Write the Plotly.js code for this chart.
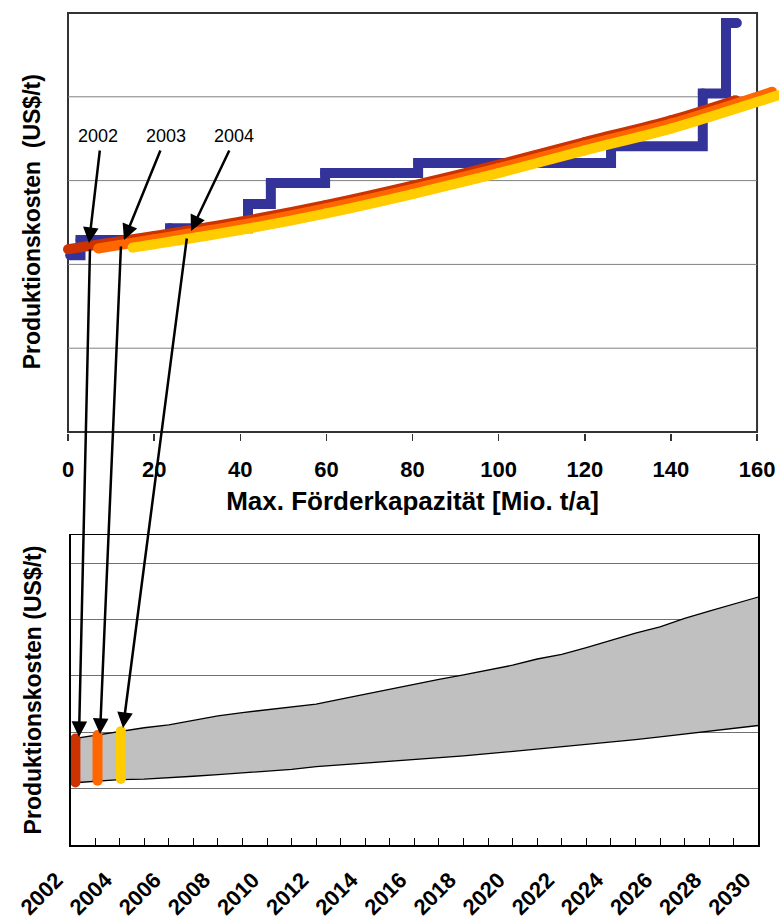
<!DOCTYPE html>
<html><head><meta charset="utf-8">
<script src="https://cdn.plot.ly/plotly-3.0.1.min.js"></script>
<style>html,body{margin:0;padding:0;background:#fff;}#chart{width:779px;height:924px;}</style>
</head><body><div id="chart"></div>
<script>
// ---------- Top chart: cost curve over capacity ----------
const stepCapacity = [0.5, 2.9, 23.7, 41.8, 47.1, 59.7, 81.3, 126.1, 147.4, 152.8, 155.3];
const stepCost     = [2.11, 2.29, 2.43, 2.72, 2.97, 3.09, 3.21, 3.41, 4.04, 4.88, 4.88];

const curve2002X = [0, 20, 40, 60, 80, 100, 120, 140, 155];
const curve2002Y = [2.18, 2.34, 2.51, 2.71, 2.94, 3.19, 3.46, 3.72, 3.96];
const curve2003X = [7, 20, 40, 60, 80, 100, 120, 140, 163.5];
const curve2003Y = [2.19, 2.30, 2.47, 2.67, 2.90, 3.15, 3.42, 3.68, 4.06];
const curve2004X = [15, 20, 40, 60, 80, 100, 120, 140, 165];
const curve2004Y = [2.20, 2.24, 2.41, 2.61, 2.84, 3.09, 3.36, 3.62, 4.02];

const topXTicks = [0, 20, 40, 60, 80, 100, 120, 140, 160];
const topGrid = [1, 2, 3, 4];

// ---------- Bottom chart: cost band over years ----------
const years = [2002,2003,2004,2005,2006,2007,2008,2009,2010,2011,2012,2013,2014,2015,2016,
               2017,2018,2019,2020,2021,2022,2023,2024,2025,2026,2027,2028,2029,2030];
const bandUpper = [1.88,1.95,2.02,2.08,2.13,2.21,2.29,2.35,2.40,2.45,2.50,2.59,2.68,2.77,2.85,
                   2.94,3.02,3.10,3.19,3.30,3.38,3.50,3.63,3.76,3.87,4.02,4.15,4.28,4.40];
const bandLower = [1.10,1.13,1.16,1.17,1.19,1.22,1.25,1.28,1.31,1.34,1.39,1.42,1.45,1.48,1.51,
                   1.55,1.58,1.62,1.66,1.70,1.74,1.78,1.83,1.87,1.92,1.97,2.03,2.08,2.12];

const markLabels = ['2002', '2003', '2004'];
const markYears  = [2002.2, 2003.1, 2004.05];
const markLow    = [1.11, 1.14, 1.17];
const markHigh   = [1.89, 1.95, 2.02];
const markColors = ['#CC3300', '#FF6600', '#FFCC00'];

// ---------- helpers ----------
const W = 779, H = 924;
const px = v => v / W;
const py = v => 1 - v / H;
const FONT = 'Liberation Sans, Arial, sans-serif';

const traces = [];
traces.push({x: stepCapacity, y: stepCost, xaxis: 'x', yaxis: 'y', mode: 'lines+markers',
  line: {shape: 'hv', color: '#333399', width: 10}, marker: {size: 10, color: '#333399'}, hoverinfo: 'skip'});
[[curve2002X, curve2002Y, markColors[0]], [curve2003X, curve2003Y, markColors[1]], [curve2004X, curve2004Y, markColors[2]]]
  .forEach(([cx, cy, col]) => traces.push({x: cx, y: cy, xaxis: 'x', yaxis: 'y', mode: 'lines+markers',
    line: {shape: 'spline', smoothing: 0.8, color: col, width: 10}, marker: {size: 10, color: col}, hoverinfo: 'skip'}));

traces.push({x: years, y: bandLower, xaxis: 'x2', yaxis: 'y2', mode: 'lines',
  line: {color: '#000', width: 1.3}, hoverinfo: 'skip'});
traces.push({x: years, y: bandUpper, xaxis: 'x2', yaxis: 'y2', mode: 'lines', fill: 'tonexty',
  fillcolor: '#C0C0C0', line: {color: '#000', width: 1.3}, hoverinfo: 'skip'});
markYears.forEach((yr, i) => traces.push({x: [yr, yr], y: [markLow[i], markHigh[i]], xaxis: 'x2', yaxis: 'y2',
  mode: 'lines+markers', line: {color: markColors[i], width: 10}, marker: {size: 10, color: markColors[i]}, hoverinfo: 'skip'}));

const shapes = [];
shapes.push({type: 'rect', xref: 'x', yref: 'y', x0: 0, x1: 160, y0: 0, y1: 5, layer: 'below',
  line: {color: '#333', width: 2}, fillcolor: 'rgba(0,0,0,0)'});
topGrid.forEach(g => shapes.push({type: 'line', xref: 'x', yref: 'y', x0: 0, x1: 160, y0: g, y1: g,
  layer: 'below', line: {color: '#808080', width: 1}}));

const annotations = [];
const labelPos = [[98, 136], [166, 136], [234, 136]];
markLabels.forEach((t, i) => annotations.push({text: t, xref: 'paper', yref: 'paper', x: px(labelPos[i][0]), y: py(labelPos[i][1]),
  showarrow: false, xanchor: 'center', yanchor: 'middle', font: {family: FONT, size: 18, color: '#000'}}));
// arrows: [tailX, tailY, headX, headY]
const arrows = [
  [100, 149, 89, 243], [161, 149, 124, 240], [230, 149, 191, 231],
  [90, 248, 79, 737], [121, 245, 100, 734], [187, 237, 123, 728]
];
arrows.forEach(a => annotations.push({text: '', xref: 'paper', yref: 'paper', x: px(a[2]), y: py(a[3]),
  ax: a[0] - a[2], ay: a[1] - a[3], showarrow: true, arrowhead: 2, arrowsize: 1.25, arrowwidth: 2.5,
  arrowcolor: '#000', standoff: 0, startstandoff: 0}));

const layout = {
  width: W, height: H, margin: {l: 0, r: 0, t: 0, b: 0}, showlegend: false,
  paper_bgcolor: '#fff', plot_bgcolor: '#fff',
  font: {family: FONT, color: '#000'},
  xaxis: {domain: [px(46.04), 1], range: [-5.1, 165.1], anchor: 'y', showgrid: false, zeroline: false, showline: false,
    tickvals: topXTicks, ticktext: topXTicks.map(String), ticks: 'outside', ticklen: 7, tickwidth: 1.5, tickcolor: '#333',
    ticklabelstandoff: 10, tickfont: {family: FONT, size: 22, color: '#000', weight: 'bold'},
    title: {text: 'Max. Förderkapazität [Mio. t/a]', standoff: 10, font: {family: FONT, size: 26, color: '#000', weight: 'bold'}}},
  yaxis: {domain: [py(433), py(10.49)], range: [-0.012, 5.03], anchor: 'free', position: px(68),
    showgrid: false, zeroline: false, showline: false, showticklabels: false, ticks: '',
    title: {text: 'Produktionskosten\u00a0 (US$/t)', standoff: 19, font: {family: FONT, size: 23, color: '#000', weight: 'bold'}}},
  xaxis2: {domain: [px(70.5), px(758.3)], range: [2002, 2030], anchor: 'y2', showgrid: false, zeroline: false,
    showline: true, mirror: true, linecolor: '#000', linewidth: 1.5,
    tick0: 2002, dtick: 2, ticks: 'inside', ticklen: 7, tickwidth: 1, tickcolor: '#000', tickangle: -45,
    ticklabelstandoff: 12, ticklabelshift: -14,
    minor: {dtick: 1, ticks: 'inside', ticklen: 7, tickwidth: 1, tickcolor: '#000'},
    tickfont: {family: FONT, size: 22, color: '#000', weight: 'bold'}},
  yaxis2: {domain: [py(845), py(535)], range: [0, 5.5], anchor: 'x2', dtick: 1, showgrid: true, gridcolor: '#707070', gridwidth: 1,
    zeroline: false, showline: true, mirror: true, linecolor: '#000', linewidth: 1.5, showticklabels: false, ticks: '',
    title: {text: 'Produktionskosten (US$/t)', standoff: 21, font: {family: FONT, size: 23, color: '#000', weight: 'bold'}}},
  shapes: shapes, annotations: annotations
};

Plotly.newPlot('chart', traces, layout, {staticPlot: true, displayModeBar: false});
</script></body></html>
